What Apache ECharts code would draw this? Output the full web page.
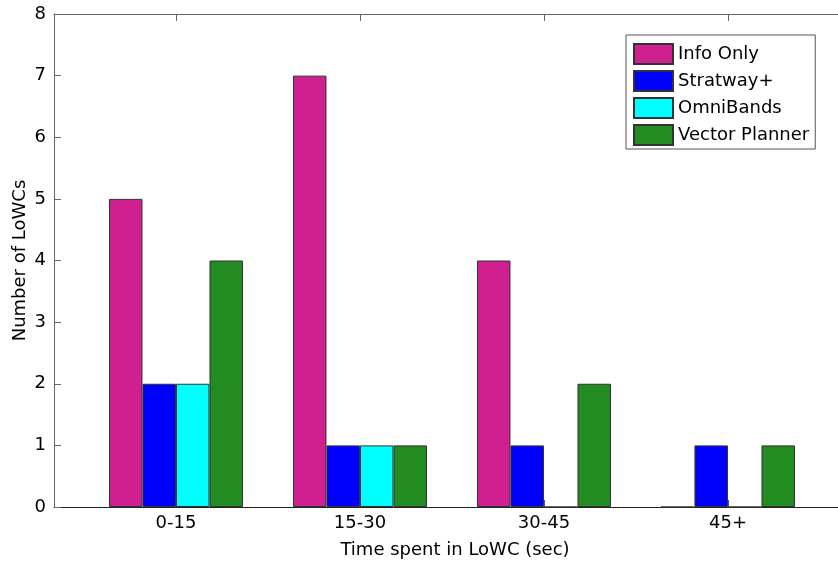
<!DOCTYPE html>
<html>
<head>
<meta charset="utf-8">
<script src="https://cdn.jsdelivr.net/npm/echarts@6/dist/echarts.min.js"></script>
<style>html,body{margin:0;padding:0;background:#fff}#c{width:838px;height:566px}</style>
</head>
<body>
<div id="c"></div>
<script>
var categories = ['0-15', '15-30', '30-45', '45+'];
var seriesNames = ['Info Only', 'Stratway+', 'OmniBands', 'Vector Planner'];
var infoOnly = [5, 7, 4, 0];
var stratway = [2, 1, 1, 1];
var omniBands = [2, 1, 0, 0];
var vectorPlanner = [4, 1, 2, 1];
var colors = ['#D02090', '#0000FF', '#00FFFF', '#228B22'];
var yTicks = [0, 1, 2, 3, 4, 5, 6, 7, 8];

var values = [infoOnly, stratway, omniBands, vectorPlanner];
var catPos = categories.map(function (c, i) { return i + 1; });
var font = 'DejaVu Sans, sans-serif';

var series = seriesNames.map(function (name, s) {
  return {
    name: name,
    type: 'bar',
    barWidth: 33.5,
    barGap: '0%',
    data: values[s].map(function (v, i) { return [catPos[i], v]; }),
    itemStyle: { color: colors[s], borderColor: '#333', borderWidth: 1 }
  };
});

var chart = echarts.init(document.getElementById('c'), null, { renderer: 'canvas' });
chart.setOption({
  animation: false,
  textStyle: { fontFamily: font },
  grid: { left: 54, right: 0, top: 14, bottom: 59, containLabel: false, outerBoundsMode: 'none' },
  legend: {
    orient: 'vertical',
    left: 626,
    top: 35,
    padding: [8, 6, 3, 7],
    itemGap: 5,
    itemWidth: 39,
    itemHeight: 20,
    icon: 'rect',
    borderColor: '#555',
    borderWidth: 1,
    backgroundColor: '#fff',
    textStyle: { fontSize: 18, color: '#000', fontFamily: font },
    data: seriesNames
  },
  xAxis: [{
    type: 'value',
    min: 0.337,
    max: 4.598,
    name: 'Time spent in LoWC (sec)',
    nameLocation: 'middle',
    nameGap: 34,
    nameMoveOverlap: false,
    nameTextStyle: { fontSize: 18, color: '#000', fontFamily: font, padding: [0, 0, 0, 18] },
    axisLine: { show: true, lineStyle: { color: '#222', width: 1 } },
    axisTick: { show: true, inside: true, length: 7, customValues: catPos, lineStyle: { color: '#555' } },
    axisLabel: {
      customValues: catPos, fontSize: 18, color: '#000', margin: 7, fontFamily: font,
      formatter: function (v) { return categories[Math.round(v) - 1] || ''; }
    },
    splitLine: { show: false }
  }, {
    type: 'value',
    position: 'top',
    min: 0.337,
    max: 4.598,
    axisLine: { show: true, lineStyle: { color: '#666', width: 1 } },
    axisTick: { show: true, inside: true, length: 7, customValues: catPos, lineStyle: { color: '#666' } },
    axisLabel: { show: false },
    splitLine: { show: false }
  }],
  yAxis: {
    type: 'value',
    min: yTicks[0],
    max: yTicks[yTicks.length - 1],
    interval: 1,
    name: 'Number of LoWCs',
    nameLocation: 'middle',
    nameGap: 25,
    nameMoveOverlap: false,
    nameTextStyle: { fontSize: 18, color: '#000', fontFamily: font },
    axisLine: { show: true, lineStyle: { color: '#666', width: 1 } },
    axisTick: { show: true, inside: true, length: 7, lineStyle: { color: '#666' } },
    axisLabel: { fontSize: 18, color: '#000', margin: 8, fontFamily: font },
    splitLine: { show: false }
  },
  series: series
});
</script>
</body>
</html>
